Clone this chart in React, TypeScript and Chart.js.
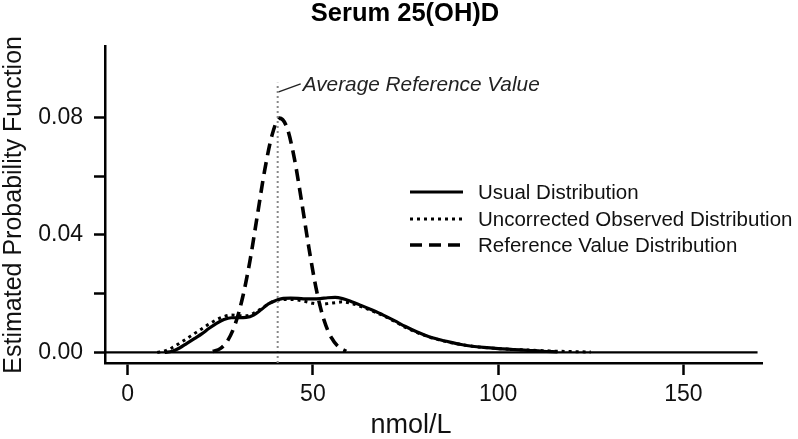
import { useEffect, useRef } from "react";
import { Chart, registerables } from "chart.js";

Chart.register(...registerables);

// ---- Data ----
const usualX = [10, 12, 14, 16, 18, 20, 22, 24, 26, 28, 30, 32, 34, 36, 38, 40, 42, 44, 46, 48, 50, 52, 54, 56, 58, 60, 63, 66, 69, 72, 75, 78, 81, 84, 87, 90, 93, 96, 100, 104, 108, 112, 116];
const usualY = [0, 0.0004, 0.0015, 0.0031, 0.0047, 0.0063, 0.0082, 0.0099, 0.0112, 0.0118, 0.0118, 0.0119, 0.0127, 0.0145, 0.0165, 0.0177, 0.0184, 0.0185, 0.0184, 0.0182, 0.0182, 0.0183, 0.0186, 0.0187, 0.0183, 0.0175, 0.016, 0.0144, 0.0127, 0.0108, 0.0088, 0.007, 0.0055, 0.0044, 0.0035, 0.0027, 0.0021, 0.0017, 0.0013, 0.001, 0.0007, 0.0004, 0.0002];

const observedX = [8, 10, 12, 14, 16, 18, 20, 22, 24, 26, 28, 30, 32, 34, 36, 38, 40, 42, 44, 46, 48, 50, 52, 54, 56, 58, 60, 63, 66, 69, 72, 75, 78, 81, 84, 87, 90, 93, 96, 100, 104, 108, 112, 116, 120, 125];
const observedY = [0, 0.0005, 0.0016, 0.0031, 0.0047, 0.0064, 0.008, 0.0097, 0.0111, 0.0122, 0.0127, 0.0125, 0.0125, 0.0133, 0.0148, 0.0165, 0.0176, 0.018, 0.018, 0.0178, 0.0173, 0.0167, 0.0164, 0.0166, 0.0169, 0.0172, 0.0168, 0.0156, 0.0141, 0.0125, 0.0106, 0.0085, 0.0068, 0.0054, 0.0043, 0.0034, 0.0027, 0.0021, 0.0017, 0.0013, 0.001, 0.0008, 0.0006, 0.0004, 0.0003, 0.0001];

const referenceX = [23, 25, 27, 29, 31, 33, 35, 37, 39, 41, 43, 45, 47, 49, 51, 53, 55, 57, 59];
const referenceY = [0.0003, 0.0013, 0.004, 0.0095, 0.0185, 0.031, 0.0465, 0.062, 0.074, 0.0797, 0.0765, 0.066, 0.051, 0.035, 0.021, 0.011, 0.005, 0.0018, 0.0004];

const averageReferenceValue = 40.5;
const averageLineTop = 0.0917;
const zeroLineX = [-6.1, 170];

const seriesLabels = ["Usual Distribution", "Uncorrected Observed Distribution", "Reference Value Distribution"];
const annotationText = "Average Reference Value";
const chartTitle = "Serum 25(OH)D";
const xTitle = "nmol/L";
const yTitle = "Estimated Probability Function";

const xTickValues = [0, 50, 100, 150];
const xTickLabels = ["0", "50", "100", "150"];
const yTickValues = [0, 0.02, 0.04, 0.06, 0.08];
const yTickLabels = ["0.00", "", "0.04", "", "0.08"];

const xMin = -6.1;
const xMax = 171.2;
const yMin = -0.0036;
const yMax = 0.104;

const FONT = "'Liberation Sans', Arial, Helvetica, sans-serif";

const zip = (xs: number[], ys: number[]) => xs.map((x, i) => ({ x, y: ys[i] }));

const overlayPlugin = {
  id: "overlay",
  afterDraw(chart: any) {
    const ctx = chart.ctx as CanvasRenderingContext2D;
    const xs = chart.scales.x;
    const ys = chart.scales.y;
    ctx.save();
    // titles
    ctx.fillStyle = "#000";
    ctx.textAlign = "center";
    ctx.textBaseline = "middle";
    ctx.font = `bold 25.5px ${FONT}`;
    ctx.fillText(chartTitle, 405, 14);
    ctx.fillStyle = "#111";
    ctx.font = `27px ${FONT}`;
    ctx.fillText(xTitle, 411, 426);

    // annotation leader line and text
    const px = xs.getPixelForValue(averageReferenceValue);
    const py = ys.getPixelForValue(averageLineTop);
    ctx.strokeStyle = "#222";
    ctx.lineWidth = 1.5;
    ctx.beginPath();
    ctx.moveTo(px + 1, py + 9);
    ctx.lineTo(px + 23, py + 1);
    ctx.stroke();
    ctx.fillStyle = "#222";
    ctx.font = `italic 20.8px ${FONT}`;
    ctx.textAlign = "left";
    ctx.fillText(annotationText, px + 25, py + 2);

    // legend
    const legendDatasets = chart.data.datasets.filter((d: any) => d.inLegend);
    const lx0 = 410;
    const lx1 = 463;
    const tx = 478;
    const rowY = [192, 219, 245];
    ctx.font = `20.5px ${FONT}`;
    legendDatasets.forEach((d: any, i: number) => {
      const y = rowY[i];
      ctx.strokeStyle = d.borderColor;
      ctx.lineWidth = d.borderWidth;
      ctx.setLineDash(d.borderDash || []);
      ctx.beginPath();
      ctx.moveTo(lx0, y);
      ctx.lineTo(lx1, y);
      ctx.stroke();
      ctx.setLineDash([]);
      ctx.fillStyle = "#111";
      ctx.fillText(d.label, tx, y + 1);
    });
    ctx.restore();
  },
};

export default function App() {
  const ref = useRef<HTMLCanvasElement | null>(null);
  useEffect(() => {
    if (!ref.current) return;
    const chart = new Chart(ref.current, {
      type: "line",
      data: {
        datasets: [
          {
            label: "zero",
            data: zip(zeroLineX, [0, 0]),
            borderColor: "#000",
            borderWidth: 2.2,
            pointRadius: 0,
            inLegend: false,
          } as any,
          {
            label: "avg",
            data: zip([averageReferenceValue, averageReferenceValue], [yMin, averageLineTop]),
            borderColor: "#888",
            borderWidth: 2,
            borderDash: [2, 3],
            pointRadius: 0,
            inLegend: false,
          } as any,
          {
            label: seriesLabels[0],
            data: zip(usualX, usualY),
            borderColor: "#000",
            borderWidth: 3.2,
            pointRadius: 0,
            cubicInterpolationMode: "monotone",
            inLegend: true,
          } as any,
          {
            label: seriesLabels[1],
            data: zip(observedX, observedY),
            borderColor: "#000",
            borderWidth: 3,
            borderDash: [3, 4],
            pointRadius: 0,
            cubicInterpolationMode: "monotone",
            inLegend: true,
          } as any,
          {
            label: seriesLabels[2],
            data: zip(referenceX, referenceY),
            borderColor: "#000",
            borderWidth: 3.6,
            borderDash: [12, 7],
            pointRadius: 0,
            cubicInterpolationMode: "monotone",
            inLegend: true,
          } as any,
        ],
      },
      options: {
        animation: false,
        responsive: false,
        devicePixelRatio: 1,
        parsing: false as any,
        layout: { padding: { left: 0, right: 36, top: 46.7, bottom: 0 } },
        plugins: {
          legend: { display: false },
          tooltip: { enabled: false },
          title: { display: false },
        },
        scales: {
          x: {
            type: "linear",
            min: xMin,
            max: xMax,
            afterBuildTicks: (s: any) => {
              s.ticks = xTickValues.map((v) => ({ value: v }));
            },
            afterFit: (s: any) => {
              s.height = 76;
            },
            ticks: {
              color: "#111",
              font: { family: FONT, size: 23 },
              padding: 6,
              maxRotation: 0,
              callback: (v: any) => xTickLabels[xTickValues.indexOf(Number(v))] ?? "",
            },
            grid: {
              drawOnChartArea: false,
              drawTicks: true,
              tickLength: 12,
              tickWidth: 2.5,
              tickColor: "#000",
            },
            border: { display: true, color: "#000", width: 2.5 },
            title: { display: false },
          },
          y: {
            type: "linear",
            min: yMin,
            max: yMax,
            afterBuildTicks: (s: any) => {
              s.ticks = yTickValues.map((v) => ({ value: v }));
            },
            afterFit: (s: any) => {
              s.width = 105;
            },
            ticks: {
              color: "#111",
              font: { family: FONT, size: 23 },
              padding: 11,
              callback: (v: any) => {
                const i = yTickValues.findIndex((t) => Math.abs(t - Number(v)) < 1e-9);
                return i >= 0 ? yTickLabels[i] : "";
              },
            },
            grid: {
              drawOnChartArea: false,
              drawTicks: true,
              tickLength: 11,
              tickWidth: 2.5,
              tickColor: "#000",
            },
            border: { display: true, color: "#000", width: 2.5 },
            title: {
              display: true,
              text: yTitle,
              color: "#111",
              font: { family: FONT, size: 25, lineHeight: 1.1 },
              padding: { top: 0, bottom: 0 },
            },
          },
        },
      },
      plugins: [overlayPlugin],
    });
    return () => chart.destroy();
  }, []);

  return (
    <div style={{ position: "absolute", left: 0, top: 0, width: 798, height: 439, background: "#fff" }}>
      <canvas ref={ref} width={798} height={439} style={{ width: 798, height: 439, display: "block" }} />
    </div>
  );
}
